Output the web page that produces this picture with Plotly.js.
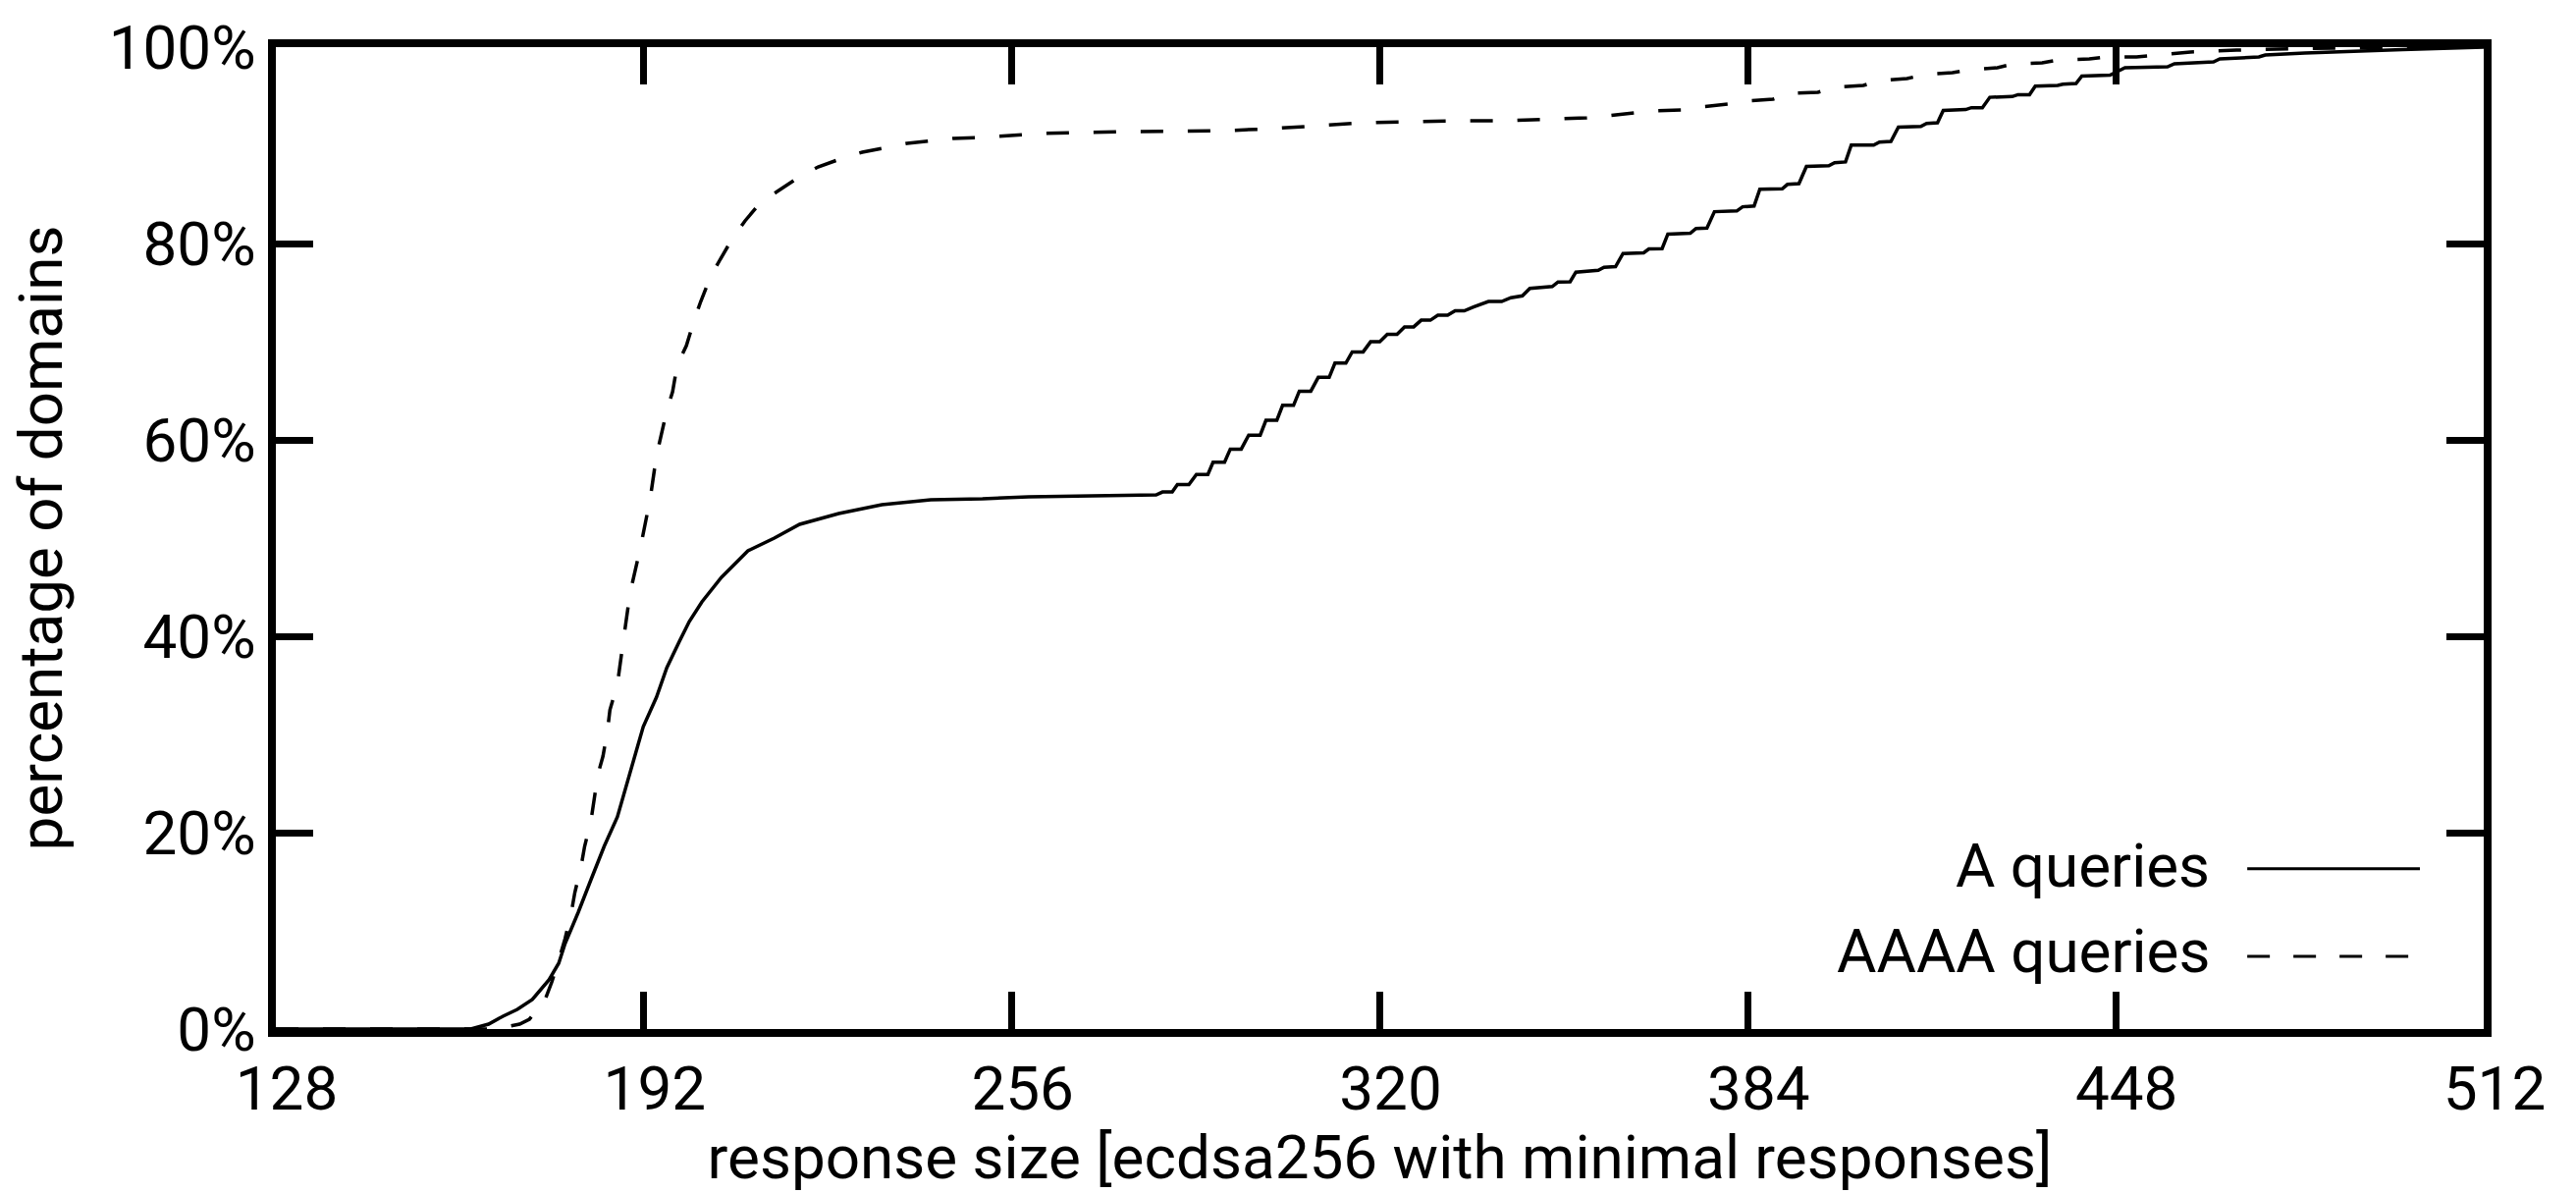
<!DOCTYPE html>
<html>
<head>
<meta charset="utf-8">
<script src="https://cdn.plot.ly/plotly-3.0.1.min.js"></script>
<style>html,body{margin:0;padding:0;background:#fff;}#chart{width:2624px;height:1215px;}</style>
</head>
<body>
<div id="chart"></div>
<script>
// ---- data ----
const seriesNames = ['A queries', 'AAAA queries'];
const xTicks = [128, 192, 256, 320, 384, 448, 512];
const yTicks = [0, 20, 40, 60, 80, 100];
const xTitle = 'response size [ecdsa256 with minimal responses]';
const yTitle = 'percentage of domains';

// A queries (solid): response size in bytes, cumulative percentage of domains
const aSize = [128, 161.9, 165, 167.5, 170, 172.6, 175.5, 177.2, 178.3, 180.6, 182.8, 185.1, 187.4, 189.6, 191.9,
  194.2, 196, 198.2, 199.9, 202.1, 205.5, 210.1, 214.7, 219.1, 225.9, 233.4, 241.9, 250.9, 258.9, 270, 281.1,
  282.2, 283.9, 284.8, 286.8, 288.1, 290.1, 291.0, 293.0, 294.0, 295.9, 297.2, 299.2, 300.2, 302.1, 303.1, 305.0,
  306.0, 308.0, 309.3, 311.2, 312.2, 314.1, 315.2, 317.1, 318.4, 320.0, 321.3, 323.0, 324.3, 325.9, 327.2, 328.8,
  330.1, 331.8, 333.1, 334.7, 336.3, 338.9, 341.2, 342.8, 344.8, 346.1, 350.0, 351.0, 353.1,
  354.1, 358.0, 359.0, 361.0, 362.3, 365.9, 366.8, 369.1, 370.1, 374.0, 375.0, 376.9, 378.2, 382.1, 383.1, 385.1,
  386.1, 390.0, 390.9, 392.9, 394.2, 398.1, 399.1, 401.0, 402.0, 405.9, 406.9, 408.9, 410.2, 414.1, 415.1, 417.0,
  418.0, 421.9, 422.9, 424.8, 426.1, 430.0, 431.0, 433.0, 434.0, 437.9, 438.8, 441.1, 442.1, 447.0, 449.6, 457.0,
  458.2, 465.0, 466.1, 472.9, 474.0, 480.9, 489.4, 497.9, 512];
const aPct = [0, 0, 0.5, 1.3, 2.0, 3.0, 5.0, 6.7, 8.7, 11.9, 15.2, 18.6, 21.6, 26.2, 30.8,
  33.8, 36.8, 39.5, 41.5, 43.5, 46.0, 48.7, 50.0, 51.4, 52.5, 53.4, 53.9, 54.0, 54.2, 54.3, 54.4,
  54.69, 54.69, 55.44, 55.44, 56.48, 56.48, 57.73, 57.73, 59.06, 59.06, 60.48, 60.48, 62.0, 62.0, 63.52, 63.52,
  64.96, 64.96, 66.37, 66.37, 67.82, 67.82, 68.96, 68.96, 69.99, 69.99, 70.75, 70.75, 71.51, 71.51, 72.19, 72.19,
  72.69, 72.69, 73.15, 73.15, 73.53, 74.10, 74.10, 74.48, 74.67, 75.43, 75.62, 76.08, 76.1,
  77.08, 77.27, 77.57, 77.65, 78.98, 79.06, 79.44, 79.48, 80.96, 81.04, 81.53, 81.57, 83.24, 83.32, 83.74, 83.82,
  85.53, 85.57, 86.02, 86.1, 87.85, 87.93, 88.23, 88.31, 90.02, 90.02, 90.33, 90.4, 91.85, 91.92, 92.23, 92.3,
  93.56, 93.64, 93.83, 93.83, 94.89, 94.97, 95.16, 95.16, 96.03, 96.11, 96.23, 96.3, 97.06, 97.14, 97.9, 98.0,
  98.3, 98.5, 98.8, 99.0, 99.2, 99.4, 99.6, 99.75, 100];

// AAAA queries (dashed)
const aaaaSize = [128, 166, 170.4, 172.1, 174.7, 176, 177.2, 178.3, 179.4, 180, 181.1, 181.7, 182.8, 183.3, 184,
  184.9, 185.7, 186.1, 187.4, 188.5, 189.6, 191.4, 193.1, 194.2, 196, 197, 197.8, 199.4, 200.7, 201.9, 203.6,
  205.3, 207.5, 209.6, 212.3, 215.2, 219.1, 222.3, 226.6, 230, 234.4, 237.8, 242.4, 245.8, 250.6, 260.7, 277,
  293.4, 301.2, 309.5, 317.4, 325.2, 333.7, 341.6, 350.1, 356, 359.6, 364.2, 367.4, 372.4, 375.6, 380.6, 383.5,
  388.4, 391.3, 396.2, 399.1, 404.1, 407, 411.7, 414.8, 419.6, 422.6, 427.4, 430.3, 435.2, 438.1, 443.4, 446.3,
  451.6, 455, 461, 469, 480, 495, 512];
const aaaaPct = [0, 0, 0.5, 1.0, 2.8, 4.8, 7.0, 9.2, 11.9, 13.9, 16.6, 18.6, 21.2, 23.2, 25.9,
  27.8, 30.5, 32.5, 35.1, 39.8, 44.4, 49.0, 54.0, 58.4, 63.0, 64.9, 67.6, 69.6, 72.1, 74.1, 76.6,
  78.4, 80.6, 82.3, 84.2, 85.3, 86.8, 87.8, 88.7, 89.3, 89.8, 90.2, 90.5, 90.7, 90.8, 91.2, 91.4,
  91.5, 91.7, 92.0, 92.3, 92.4, 92.5, 92.5, 92.7, 92.8, 93.0, 93.3, 93.5, 93.6, 93.9, 94.2, 94.5,
  94.7, 95.3, 95.4, 95.9, 96.1, 96.6, 96.8, 97.2, 97.4, 97.7, 97.9, 98.3, 98.4, 98.7, 98.8, 99.0,
  99.0, 99.2, 99.5, 99.7, 99.85, 99.95, 100];

// ---- styling ----
const FONT = 'Roboto, "Liberation Sans", sans-serif';
const DASH = '23px,25px';

const traces = [
  {x: aSize, y: aPct, name: seriesNames[0], type: 'scatter', mode: 'lines',
   line: {color: '#000', width: 3.5}, hoverinfo: 'skip'},
  {x: aaaaSize, y: aaaaPct, name: seriesNames[1], type: 'scatter', mode: 'lines',
   line: {color: '#000', width: 3.5, dash: DASH}, hoverinfo: 'skip'}
];

const axisCommon = {
  ticks: 'inside', ticklen: 38, tickwidth: 7, tickcolor: '#000',
  showline: true, linewidth: 8, linecolor: '#000', mirror: 'ticks',
  showgrid: false, zeroline: false, automargin: false,
  tickfont: {family: FONT, size: 62, color: '#000'}
};

const layout = {
  width: 2624, height: 1215,
  margin: {l: 281, r: 94, t: 48, b: 167, pad: 0},
  paper_bgcolor: '#fff', plot_bgcolor: '#fff',
  font: {family: FONT, size: 62, color: '#000'},
  showlegend: false,
  xaxis: Object.assign({}, axisCommon, {
    range: [128, 512], tickmode: 'array', tickvals: xTicks, ticktext: xTicks.map(String),
    ticklabelshift: 11,
    title: {text: xTitle, font: {family: FONT, size: 62, color: '#000'}, standoff: 8}
  }),
  yaxis: Object.assign({}, axisCommon, {
    range: [0, 100], tickmode: 'array', tickvals: yTicks, ticktext: yTicks.map(v => v + '%'),
    title: {text: yTitle, font: {family: FONT, size: 62, color: '#000'}, standoff: 30}
  }),
  annotations: [
    {text: seriesNames[0], xref: 'paper', yref: 'paper', x: 0.8768, y: 0.1663,
     xanchor: 'right', yanchor: 'middle', showarrow: false, font: {family: FONT, size: 62, color: '#000'}},
    {text: seriesNames[1], xref: 'paper', yref: 'paper', x: 0.8768, y: 0.0792,
     xanchor: 'right', yanchor: 'middle', showarrow: false, font: {family: FONT, size: 62, color: '#000'}}
  ],
  shapes: [
    {type: 'line', xref: 'paper', yref: 'paper', x0: 0.8929, x1: 0.9711, y0: 0.1633, y1: 0.1633,
     line: {color: '#000', width: 3}},
    {type: 'line', xref: 'paper', yref: 'paper', x0: 0.8929, x1: 0.9662, y0: 0.0741, y1: 0.0741,
     line: {color: '#000', width: 3, dash: '23px,24px'}}
  ]
};

Plotly.newPlot('chart', traces, layout, {displayModeBar: false, staticPlot: true});
</script>
</body>
</html>
